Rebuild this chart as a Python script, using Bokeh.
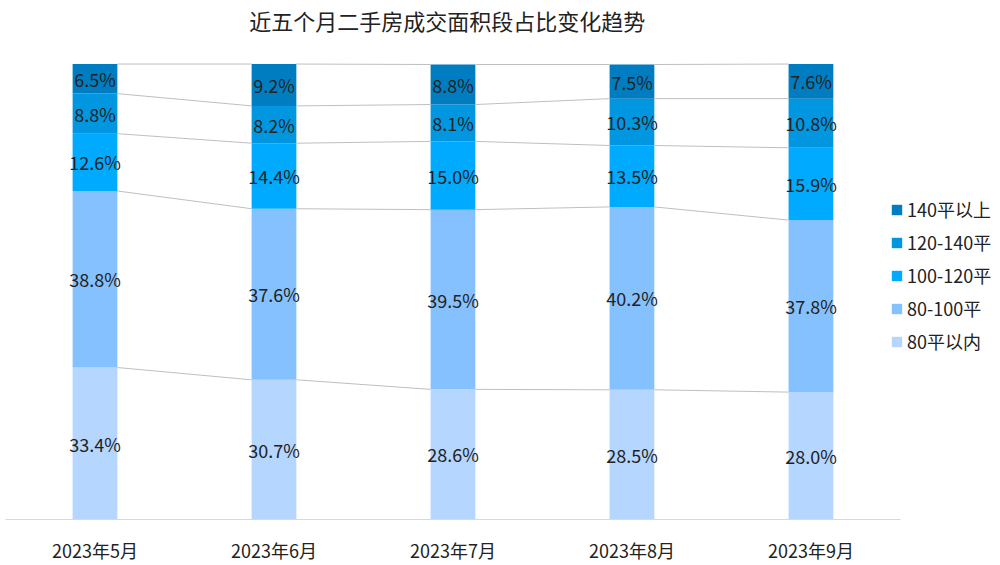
from bokeh.plotting import figure
from bokeh.models import Range1d, FixedTicker, Legend, LegendItem, ColumnDataSource
from bokeh.core.properties import value
from bokeh.embed import file_html
from bokeh.resources import INLINE

FONT = "Noto Sans CJK SC"

title = "近五个月二手房成交面积段占比变化趋势"
months = ["2023年5月", "2023年6月", "2023年7月", "2023年8月", "2023年9月"]
series_names = ["80平以内", "80-100平", "100-120平", "120-140平", "140平以上"]
s_80 = [33.4, 30.7, 28.6, 28.5, 28.0]
s_80_100 = [38.8, 37.6, 39.5, 40.2, 37.8]
s_100_120 = [12.6, 14.4, 15.0, 13.5, 15.9]
s_120_140 = [8.8, 8.2, 8.1, 10.3, 10.8]
s_140 = [6.5, 9.2, 8.8, 7.5, 7.6]
colors = ["#B5D6FF", "#85C1FF", "#00AAFF", "#0096E0", "#007DC1"]

series = [s_80, s_80_100, s_100_120, s_120_140, s_140]
xs = [i + 0.5 for i in range(len(months))]
bar_w = 0.25

# frame spans from the canvas top down to the axis; 100% sits 64px below the top
PX_PER_UNIT = 4.55
y_top = 100 + 64 / PX_PER_UNIT

p = figure(width=1000, height=565, x_range=Range1d(0, 5.559), y_range=Range1d(0, y_top),
           output_backend="svg", toolbar_location=None,
           min_border_left=5, min_border_right=0, min_border_top=0, min_border_bottom=46)

p.grid.visible = False
p.outline_line_color = None
p.yaxis.visible = False
p.xaxis.ticker = FixedTicker(ticks=xs)
p.xaxis.major_label_overrides = {x: m for x, m in zip(xs, months)}
p.xaxis.bounds = (0, 5)
p.xaxis.axis_line_color = "#D9D9D9"
p.xaxis.major_tick_line_color = None
p.xaxis.minor_tick_line_color = None
p.xaxis.major_tick_out = 0
p.xaxis.major_tick_in = 0
p.xaxis.minor_tick_out = 0
p.xaxis.minor_tick_in = 0
p.xaxis.major_label_standoff = 17
p.xaxis.major_label_text_font = FONT
p.xaxis.major_label_text_font_size = "18px"
p.xaxis.major_label_text_color = "#222222"

# chart title, drawn as text in the area above the 100% line
p.text(x=[(446.5 - 5) / 178.9], y=[100 + (64 - 19) / PX_PER_UNIT], text=[title],
       text_align="center", text_baseline="middle", text_font=value(FONT),
       text_font_size="22px", text_color="#222222")

bottoms = [0.0] * len(xs)
renderers = []
levels = []
for vals, col in zip(series, colors):
    tops = [b + v for b, v in zip(bottoms, vals)]
    mids = [(b + t) / 2 for b, t in zip(bottoms, tops)]
    src = ColumnDataSource(dict(x=xs, bottom=bottoms, top=tops, mid=mids,
                                label=[f"{v:.1f}%" for v in vals]))
    r = p.vbar(x="x", bottom="bottom", top="top", width=bar_w, source=src,
               fill_color=col, line_color=None)
    renderers.append(r)
    p.text(x="x", y="mid", text="label", source=src, text_align="center",
           text_baseline="middle", text_font=value(FONT), text_font_size="18px",
           text_color="#222222")
    levels.append(tops)
    bottoms = tops

x0, y0, x1, y1 = [], [], [], []
for lev in levels:
    for i in range(len(xs) - 1):
        x0.append(xs[i] + bar_w / 2)
        x1.append(xs[i + 1] - bar_w / 2)
        y0.append(lev[i])
        y1.append(lev[i + 1])
p.segment(x0=x0, y0=y0, x1=x1, y1=y1, line_color="#BFBFBF", line_width=1)

items = [LegendItem(label=n, renderers=[r]) for n, r in zip(series_names, renderers)][::-1]
legend = Legend(items=items, location=(885, 165), border_line_color=None,
                background_fill_alpha=0, glyph_width=13, glyph_height=13,
                label_height=20, spacing=7, padding=0, margin=0, label_standoff=4,
                label_text_font=FONT, label_text_font_size="18px",
                label_text_color="#222222")
p.add_layout(legend)

open("out.html", "w").write(file_html(p, INLINE))
